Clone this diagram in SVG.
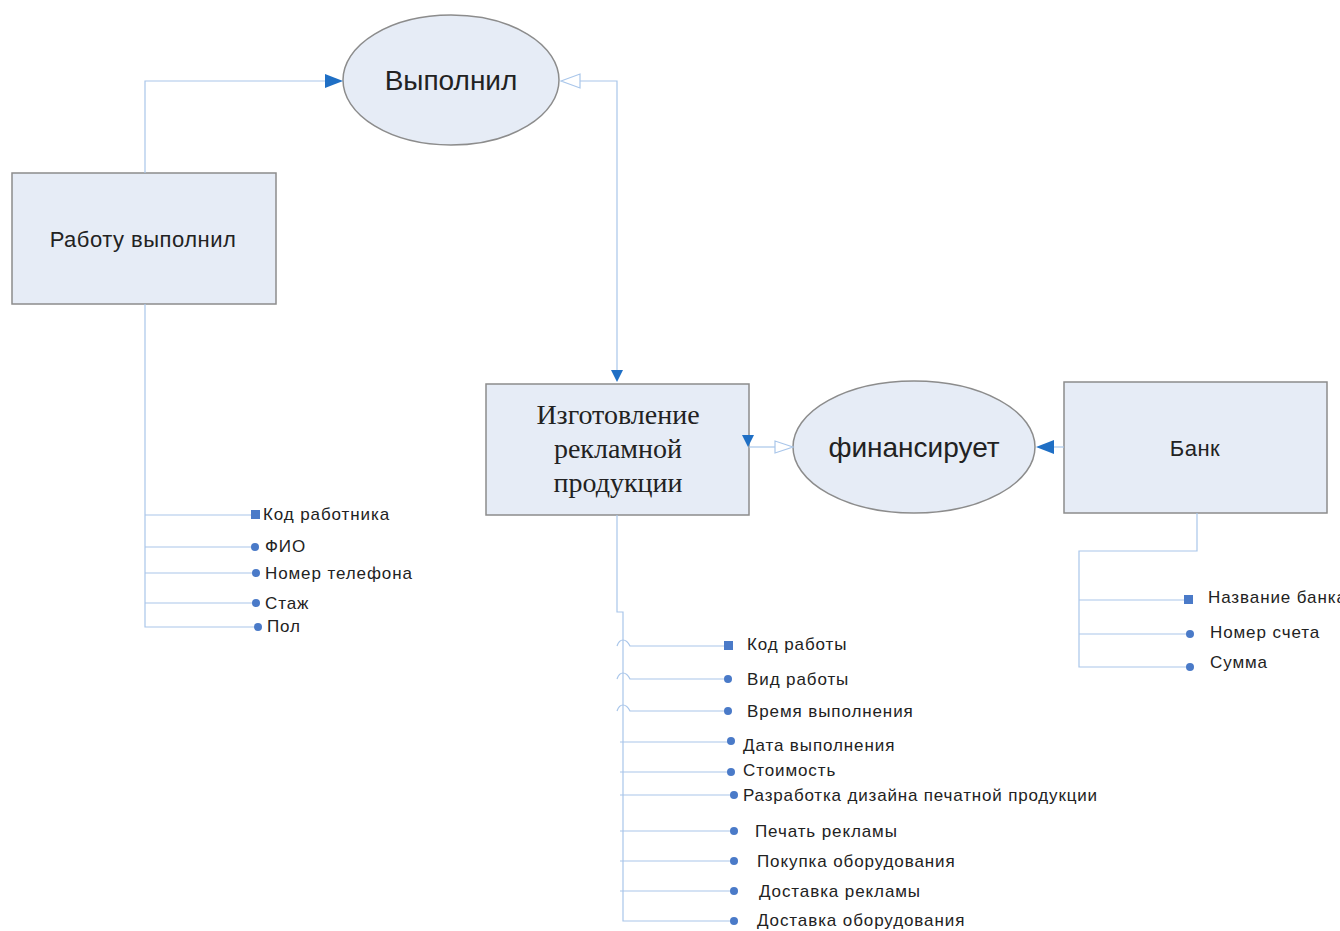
<svg xmlns="http://www.w3.org/2000/svg" width="1340" height="931" viewBox="0 0 1340 931">
<defs>
<style>
.shape{fill:#e6ecf6;stroke:#8c8c8c;stroke-width:1.5}
.ln{fill:none;stroke:#a9c6ea;stroke-width:1.2}
.t{font-family:"Liberation Sans",Arial,sans-serif;fill:#222}
.s{font-family:"Liberation Serif","Times New Roman",serif;fill:#222}
.a{font-size:17px;letter-spacing:0.9px}
.dot{fill:#4a7ac8}
.fa{fill:#1f6fc5}
.oa{fill:#fff;stroke:#a9c6ea;stroke-width:1.2}
</style>
</defs>
<g id="node-vypolnil">
  <ellipse class="shape" cx="451" cy="80" rx="108" ry="65"/>
  <text class="t" x="451" y="90" font-size="28" text-anchor="middle">Выполнил</text>
</g>
<g id="node-rabotu">
  <rect class="shape" x="12" y="173" width="264" height="131"/>
  <text class="t" x="143" y="247" font-size="22" letter-spacing="0.5" text-anchor="middle">Работу выполнил</text>
</g>
<g id="node-izgotovlenie">
  <rect class="shape" x="486" y="384" width="263" height="131"/>
  <text class="s" x="618" y="424" font-size="28" text-anchor="middle">Изготовление</text>
  <text class="s" x="618" y="458" font-size="28" text-anchor="middle">рекламной</text>
  <text class="s" x="618" y="492" font-size="28" text-anchor="middle">продукции</text>
</g>
<g id="node-finansiruet">
  <ellipse class="shape" cx="914" cy="447" rx="121" ry="66"/>
  <text class="t" x="914" y="457" font-size="28" text-anchor="middle">финансирует</text>
</g>
<g id="node-bank">
  <rect class="shape" x="1064" y="382" width="263" height="131"/>
  <text class="t" x="1195" y="456" font-size="22" letter-spacing="0.5" text-anchor="middle">Банк</text>
</g>
<g id="connectors">
  <!-- Работу выполнил -> Выполнил -->
  <polyline class="ln" points="145,173 145,81 326,81"/>
  <polygon class="fa" points="325,74 343,81 325,88"/>
  <!-- Выполнил -> Изготовление -->
  <polyline class="ln" points="580,81 617,81 617,370"/>
  <polygon class="oa" points="561,81 580,74 580,88"/>
  <polygon class="fa" points="611,370 617,382 623,370"/>
  <!-- Изготовление -> финансирует -->
  <polyline class="ln" points="749,447 775,447"/>
  <polygon class="oa" points="793,447 775,441 775,453"/>
  <polygon class="fa" points="742,435 754,435 748,447"/>
  <!-- Банк -> финансирует -->
  <line class="ln" x1="1064" y1="447" x2="1052" y2="447"/>
  <polygon class="fa" points="1036,447 1054,440 1054,454"/>
  <!-- Работу выполнил attributes -->
  <polyline class="ln" points="145,304 145,627 256,627"/>
  <line class="ln" x1="145" y1="515" x2="252" y2="515"/>
  <line class="ln" x1="145" y1="547" x2="253" y2="547"/>
  <line class="ln" x1="145" y1="573" x2="254" y2="573"/>
  <line class="ln" x1="145" y1="603" x2="254" y2="603"/>
  <!-- Изготовление attributes -->
  <polyline class="ln" points="617,515 617,612 623,612 623,921 734,921"/>
  <path class="ln" d="M617,646 Q619,640 623,640 Q627,640 630,646 L728,646"/>
  <path class="ln" d="M617,679 Q619,673 623,673 Q627,673 630,679 L728,679"/>
  <path class="ln" d="M617,711 Q619,705 623,705 Q627,705 630,711 L728,711"/>
  <line class="ln" x1="620" y1="742" x2="731" y2="742"/>
  <line class="ln" x1="620" y1="772" x2="731" y2="772"/>
  <line class="ln" x1="620" y1="795" x2="734" y2="795"/>
  <line class="ln" x1="620" y1="831" x2="734" y2="831"/>
  <line class="ln" x1="620" y1="861" x2="734" y2="861"/>
  <line class="ln" x1="620" y1="891" x2="734" y2="891"/>
  <!-- Банк attributes -->
  <polyline class="ln" points="1197,513 1197,551 1079,551 1079,667 1190,667"/>
  <line class="ln" x1="1079" y1="600" x2="1188" y2="600"/>
  <line class="ln" x1="1079" y1="634" x2="1190" y2="634"/>
</g>
<g id="attrs-rabotu">
  <rect class="dot" x="251" y="510" width="9" height="9"/>
  <circle class="dot" cx="255" cy="547" r="4"/>
  <circle class="dot" cx="256" cy="573" r="4"/>
  <circle class="dot" cx="256" cy="603" r="4"/>
  <circle class="dot" cx="258" cy="627" r="4"/>
  <text class="t a" x="263" y="520">Код работника</text>
  <text class="t a" x="265" y="552">ФИО</text>
  <text class="t a" x="265" y="579">Номер телефона</text>
  <text class="t a" x="265" y="609">Стаж</text>
  <text class="t a" x="267" y="632">Пол</text>
</g>
<g id="attrs-izgotovlenie">
  <rect class="dot" x="724" y="641" width="9" height="9"/>
  <circle class="dot" cx="728" cy="679" r="4"/>
  <circle class="dot" cx="728" cy="711" r="4"/>
  <circle class="dot" cx="731" cy="741" r="4"/>
  <circle class="dot" cx="731" cy="772" r="4"/>
  <circle class="dot" cx="734" cy="795" r="4"/>
  <circle class="dot" cx="734" cy="831" r="4"/>
  <circle class="dot" cx="734" cy="861" r="4"/>
  <circle class="dot" cx="734" cy="891" r="4"/>
  <circle class="dot" cx="734" cy="921" r="4"/>
  <text class="t a" x="747" y="650">Код работы</text>
  <text class="t a" x="747" y="685">Вид работы</text>
  <text class="t a" x="747" y="717">Время выполнения</text>
  <text class="t a" x="743" y="751">Дата выполнения</text>
  <text class="t a" x="743" y="776">Стоимость</text>
  <text class="t a" x="743" y="801" textLength="355" lengthAdjust="spacing">Разработка дизайна печатной продукции</text>
  <text class="t a" x="755" y="837">Печать рекламы</text>
  <text class="t a" x="757" y="867">Покупка оборудования</text>
  <text class="t a" x="759" y="897">Доставка рекламы</text>
  <text class="t a" x="757" y="926">Доставка оборудования</text>
</g>
<g id="attrs-bank">
  <rect class="dot" x="1184" y="595" width="9" height="9"/>
  <circle class="dot" cx="1190" cy="634" r="4"/>
  <circle class="dot" cx="1190" cy="667" r="4"/>
  <text class="t a" x="1208" y="603">Название банка</text>
  <text class="t a" x="1210" y="638">Номер счета</text>
  <text class="t a" x="1210" y="668">Сумма</text>
</g>
</svg>
